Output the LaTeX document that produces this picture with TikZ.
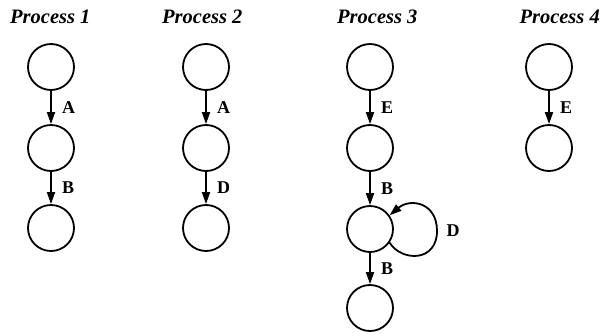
\documentclass[tikz,border=0pt]{standalone}
\usepackage{fontspec}
\setmainfont{Liberation Serif}
\usetikzlibrary{arrows.meta}
\begin{document}
\begin{tikzpicture}[x=1pt,y=-1pt,
  state/.style={circle,draw,line width=1.8pt,minimum size=46pt,inner sep=0pt},
  title/.style={font=\fontsize{20.5}{23}\selectfont\bfseries\itshape,anchor=base west,inner sep=0pt},
  trans/.style={line width=1.8pt,-{Triangle[length=12pt,width=8pt]}},
  lab/.style={font=\fontsize{18}{20}\selectfont\bfseries,anchor=west}]
\useasboundingbox (0,0) rectangle (604,335);
\node[title] (t1) at (10,23) {Process 1};
\node[title] (t2) at (162,23) {Process 2};
\node[title] (t3) at (337,23) {Process 3};
\node[title,anchor=base east] (t4) at (600,23) {Process 4};
% Process 1
\node[state] (p1a) at (51,67) {};
\node[state] (p1b) at (51,148) {};
\node[state] (p1c) at (51,228) {};
\draw[trans] (p1a) -- node[lab,xshift=7pt] {A} (p1b);
\draw[trans] (p1b) -- node[lab,xshift=7pt] {B} (p1c);
% Process 2
\node[state] (p2a) at (206,67) {};
\node[state] (p2b) at (206,148) {};
\node[state] (p2c) at (206,228) {};
\draw[trans] (p2a) -- node[lab,xshift=7pt] {A} (p2b);
\draw[trans] (p2b) -- node[lab,xshift=7pt] {D} (p2c);
% Process 3
\node[state] (p3a) at (370,67) {};
\node[state] (p3b) at (370,148) {};
\node[state] (p3c) at (370,229) {};
\node[state] (p3d) at (370,308) {};
\draw[trans] (p3a) -- node[lab,xshift=7pt] {E} (p3b);
\draw[trans] (p3b) -- node[lab,xshift=7pt] {B} (p3c);
\draw[trans] (p3c) -- node[lab,xshift=7pt] {B} (p3d);
\draw[trans] (p3c.-35) .. controls (402,262) and (437,262) .. (437,231)
  .. controls (437,202) and (410,198) .. (p3c.35);
\node[lab] (ld) at (443,231) {D};
% Process 4
\node[state] (p4a) at (549,67) {};
\node[state] (p4b) at (549,148) {};
\draw[trans] (p4a) -- node[lab,xshift=7pt] {E} (p4b);
\end{tikzpicture}
\end{document}
